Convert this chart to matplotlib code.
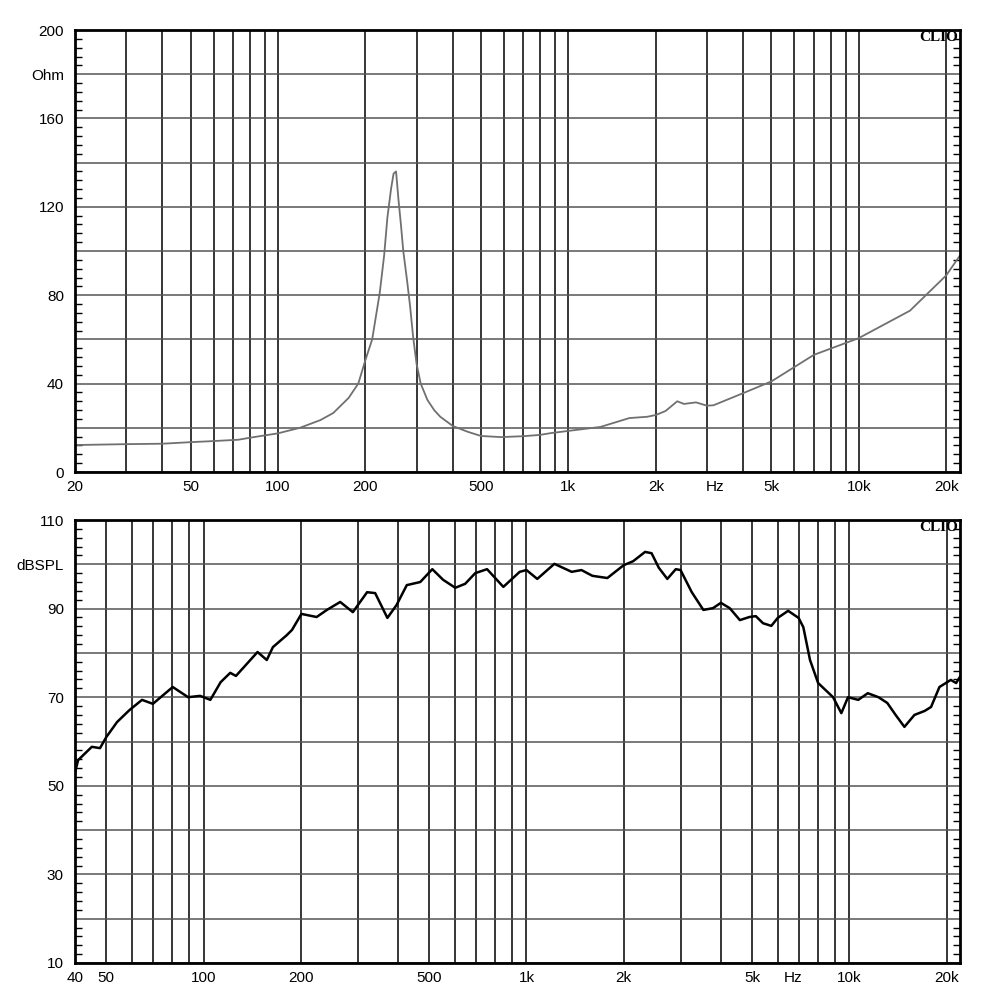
import matplotlib
matplotlib.use('Agg')
import matplotlib.pyplot as plt
from matplotlib.ticker import MultipleLocator, NullLocator

plt.rcParams['font.family'] = ['Liberation Sans', 'DejaVu Sans']

# impedance curve (Hz, Ohm)
imp_freq = [20, 30, 40, 50, 60, 73, 80, 100, 119, 140, 155, 175, 189, 200, 211,
            224, 232, 238, 245, 250, 255, 260, 265, 270, 278, 285, 292, 300, 310,
            327, 345, 362, 400, 450, 500, 585, 700, 800, 870, 1000, 1290, 1620,
            1870, 2000, 2160, 2370, 2500, 2750, 3000, 3160, 4000, 5000, 7000,
            10000, 15000, 20000, 22300]
imp_ohm = [12.2, 12.6, 12.8, 13.5, 14.0, 14.6, 15.5, 17.5, 20.0, 23.5, 26.7, 33.5,
           40.0, 50.7, 60.0, 81.0, 98.0, 115.0, 128.0, 135.0, 136.0, 123.0, 112.0,
           100.0, 87.0, 75.0, 61.0, 49.0, 40.0, 32.6, 28.0, 25.0, 20.8, 18.2, 16.3,
           15.8, 16.2, 16.8, 17.6, 18.6, 20.4, 24.4, 25.0, 25.8, 27.6, 32.0, 30.8,
           31.5, 30.0, 30.2, 35.7, 41.0, 53.0, 60.6, 73.0, 89.0, 98.0]

# SPL curve (Hz, dB)
spl_freq = [40, 40.9, 45.1, 47.8, 50, 54.0, 59.0, 64.5, 69.7, 80.3, 89.6, 97.6,
            105, 113, 121, 126, 147, 157, 164, 181, 188, 201, 224, 241, 265, 290,
            321, 340, 371, 396, 426, 469, 511, 552, 602, 646, 694, 755, 848, 953,
            1000, 1080, 1220, 1380, 1480, 1600, 1780, 2000, 2140, 2330, 2440,
            2570, 2730, 2900, 3000, 3250, 3530, 3780, 4000, 4260, 4580, 4900,
            5130, 5400, 5730, 6000, 6460, 6960, 7200, 7550, 8000, 8900, 9440,
            9900, 10650, 11400, 12300, 13100, 13900, 14800, 15900, 17100, 17900,
            19000, 20600, 21400, 22000]
spl_db = [53.0, 55.8, 58.8, 58.5, 61.0, 64.4, 67.1, 69.4, 68.5, 72.3, 70.0, 70.3,
          69.4, 73.4, 75.5, 74.8, 80.2, 78.4, 81.3, 84.0, 85.2, 88.8, 88.1, 89.7,
          91.5, 89.2, 93.7, 93.5, 87.9, 90.8, 95.3, 96.0, 98.9, 96.5, 94.7, 95.6,
          98.0, 98.9, 94.9, 98.3, 98.7, 96.7, 100.1, 98.3, 98.7, 97.4, 96.9, 99.8,
          100.7, 102.8, 102.5, 99.2, 96.7, 98.9, 98.7, 93.7, 89.7, 90.1, 91.3,
          90.1, 87.4, 88.1, 88.3, 86.7, 86.1, 87.9, 89.5, 87.9, 85.8, 78.4, 73.2,
          70.0, 66.4, 70.0, 69.4, 70.9, 70.0, 68.7, 66.0, 63.3, 66.0, 66.9, 67.8,
          72.3, 73.9, 73.2, 74.6]

grid_freqs = [m * 10 ** e for e in range(1, 5) for m in range(1, 10)]

top_labels = {20: '20', 50: '50', 100: '100', 200: '200', 500: '500', 1000: '1k',
              2000: '2k', 5000: '5k', 10000: '10k', 20000: '20k'}
bot_labels = {40: '40', 50: '50', 100: '100', 200: '200', 500: '500', 1000: '1k',
              2000: '2k', 5000: '5k', 10000: '10k', 20000: '20k'}

imp_ylabels = {0: '0', 40: '40', 80: '80', 120: '120', 160: '160', 180: 'Ohm', 200: '200'}
spl_ylabels = {10: '10', 30: '30', 50: '50', 70: '70', 90: '90', 100: 'dBSPL', 110: '110'}


def setup(ax, xmin, xmax, ymin, ymax, ystep, yminor, xlabels, ylabels, hz_pos):
    ax.set_xscale('log')
    ax.set_xlim(xmin, xmax)
    ax.set_ylim(ymin, ymax)
    xt = sorted(set([f for f in grid_freqs if xmin <= f <= xmax] + [20000]))
    ax.set_xticks(xt)
    ax.set_xticklabels([xlabels.get(f, '') for f in xt])
    ax.xaxis.set_minor_locator(NullLocator())
    yt = list(range(ymin, ymax + 1, ystep))
    ax.set_yticks(yt)
    ax.set_yticklabels([ylabels.get(v, '') for v in yt])
    ax.yaxis.set_minor_locator(MultipleLocator(yminor))
    ax.tick_params(axis='both', which='major', length=0, labelsize=11, pad=8)
    ax.tick_params(axis='x', pad=6)
    ax.tick_params(axis='y', which='minor', direction='in', left=True, right=True,
                   length=5, width=1)
    ax.grid(axis='x', color='black', lw=1.1)
    ax.grid(axis='y', color='#555555', lw=1.1)
    for s in ax.spines.values():
        s.set_linewidth(2)
        s.set_color('black')
    ax.text(hz_pos, -0.018, 'Hz', transform=ax.get_xaxis_transform(),
            ha='center', va='top', fontsize=11)
    ax.text(0.998, 0.997, 'CLIO', transform=ax.transAxes, ha='right', va='top',
            fontsize=11, fontweight='bold', family='Liberation Serif')


fig = plt.figure(figsize=(10, 10), dpi=100)
ax1 = fig.add_axes([0.075, 0.528, 0.885, 0.442])
ax2 = fig.add_axes([0.075, 0.037, 0.885, 0.443])

setup(ax1, 20, 22300, 0, 200, 20, 4, top_labels, imp_ylabels, 3200)
ax1.plot(imp_freq, imp_ohm, color='#707070', lw=1.3)

setup(ax2, 40, 22000, 10, 110, 10, 2, bot_labels, spl_ylabels, 6700)
ax2.plot(spl_freq, spl_db, color='black', lw=1.8)

fig.savefig('out.png', dpi=100, facecolor='white')
